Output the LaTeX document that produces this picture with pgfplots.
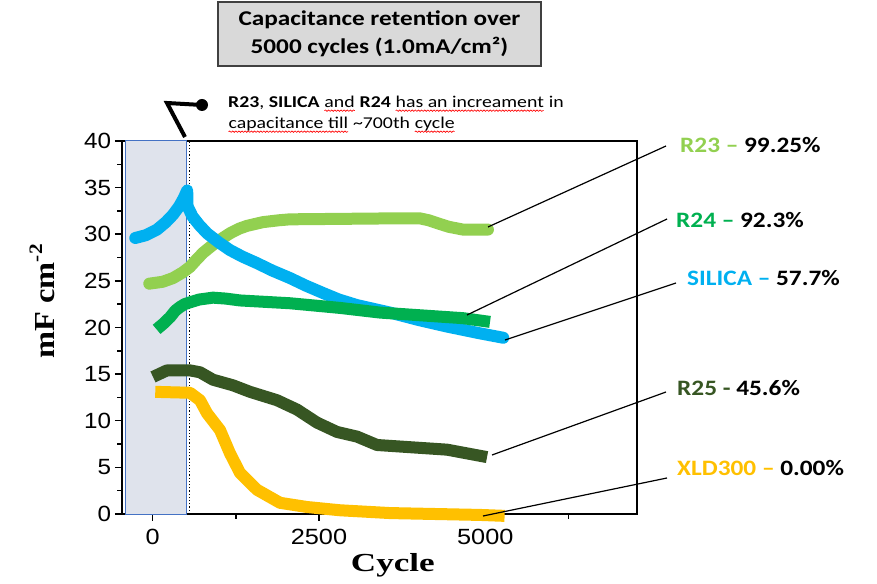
\documentclass[border=0pt]{standalone}
\usepackage{pgfplots}
\pgfplotsset{compat=1.18}
\usetikzlibrary{decorations.pathmorphing}
\usepackage{fontspec}
\setmainfont{Liberation Sans}
\newfontfamily\calib{Carlito}
\newfontfamily\tnr{Liberation Serif}
\newcommand\redwave[1]{\tikz[baseline=(t.base)]{\node[inner sep=0pt,outer sep=0pt](t){#1};\draw[red, line width=0.6pt, decorate, decoration={snake, amplitude=0.7pt, segment length=2.6pt}] ([yshift=-3pt]t.base west) -- ([yshift=-3pt]t.base east);}}
\definecolor{cR23}{HTML}{92D050}
\definecolor{cR24}{HTML}{00B050}
\definecolor{cSil}{HTML}{00B0F0}
\definecolor{cR25}{HTML}{375623}
\definecolor{cXLD}{HTML}{FFC000}
\definecolor{shade}{HTML}{DFE3EC}
\definecolor{shadeB}{HTML}{4472C4}
\begin{document}
\begin{tikzpicture}
\useasboundingbox (0,0) rectangle (877pt,583pt);
\begin{axis}[
  at={(122pt,69pt)}, anchor=south west,
  width=515pt, height=373pt, scale only axis,
  xmin=-460, xmax=7280, ymin=0, ymax=40,
  xtick={0,2500,5000}, minor xtick={1250,3750,6250},
  ytick={0,5,...,40}, minor ytick={2.5,7.5,...,37.5},
  tick align=outside, xtick pos=bottom, ytick pos=left,
  major tick length=7pt, minor tick length=4.5pt,
  tick style={black, line width=1.5pt},
  axis line style={line width=2pt},
  clip=false, scaled x ticks=false,
  /pgf/number format/assume math mode=true,
  /pgf/number format/1000 sep={},
  xticklabel style={font=\fontsize{22}{22}\selectfont, xscale=1.15, yshift=-5pt},
  yticklabel style={font=\fontsize{22}{22}\selectfont, xscale=1.1},
  xlabel={\scalebox{1.35}[1]{\tnr\bfseries Cycle}},
  xlabel style={at={(axis description cs:0.526,-0.155)}, anchor=base, font=\fontsize{26}{26}\selectfont},
  ylabel={\scalebox{1.12}[1]{\tnr\bfseries mF cm\raisebox{0.42em}{\fontsize{19}{19}\selectfont -2}}},
  ylabel style={at={(axis description cs:-0.155,0.57)}, anchor=center, font=\fontsize{29}{29}\selectfont},
]
\draw[fill=shade, draw=shadeB, line width=1pt] (axis cs:-406,0) rectangle (axis cs:511,40);
\draw[black, dotted, line width=1.2pt] (axis cs:556,0) -- (axis cs:556,40);

\addplot[cR23, line width=12pt, line join=round, line cap=round] coordinates {
(-50,24.7) (150,24.9) (307,25.3) (450,25.9) (562,26.5) (650,27.2) (757,28.0) (860,28.6) (968,29.2) (1163,30.1) (1300,30.6) (1419,30.9) (1659,31.3) (1900,31.5) (2065,31.6) (3568,31.7) (4019,31.7) (4150,31.5) (4274,31.2) (4450,30.8) (4665,30.5) (5040,30.5)};

\addplot[cSil, line width=12pt, line join=round, line cap=round] coordinates {
(-260,29.6) (-100,29.9) (66,30.5) (200,31.3) (307,32.1) (400,33.0) (470,33.9) (520,34.7) (525,33.0) (600,31.9) (700,31.0) (818,30.1) (1000,29.1) (1163,28.3) (1350,27.6) (1569,26.9) (1800,26.1) (2065,25.3) (2300,24.5) (2561,23.7) (2800,23.0) (3072,22.4) (3568,21.6) (4000,20.8) (4425,20.1) (4900,19.4) (5270,18.9)};

\addplot[cR24, line width=12pt, line join=round] coordinates {
(60,19.8) (160,20.4) (262,21.1) (340,21.8) (412,22.2) (480,22.5) (562,22.7) (700,23.0) (908,23.2) (1100,23.1) (1314,22.9) (2065,22.6) (2816,22.1) (3418,21.6) (4665,21.0) (5071,20.6)};

\addplot[cR25, line width=12pt, line join=round] coordinates {
(6,14.7) (216,15.4) (562,15.4) (712,15.2) (908,14.4) (1208,13.8) (1464,13.1) (1870,12.2) (2170,11.2) (2471,9.8) (2771,8.8) (3072,8.3) (3373,7.4) (4425,6.9) (5026,6.1)};

\addplot[cXLD, line width=12pt, line join=round] coordinates {
(40,13.1) (562,13.0) (712,12.2) (818,10.8) (1013,9.0) (1163,6.5) (1314,4.4) (1569,2.6) (1915,1.2) (2320,0.75) (2816,0.4) (3568,0.1) (4921,-0.1) (5290,-0.2)};
\end{axis}

% title box
\node[draw=black!75, fill=black!15, line width=1.5pt, minimum width=323pt, minimum height=64pt, inner sep=0pt] at (379.5pt,549pt) {};
\node[align=center, font=\calib\bfseries\fontsize{21}{28}\selectfont, xscale=1.2] at (379.5pt,549pt) {Capacitance retention over\\5000 cycles (1.0mA/cm²)};

% annotation
\node[anchor=north west, align=left, inner sep=0pt, font=\calib\fontsize{16.5}{21}\selectfont, xscale=1.2] at (228pt,487pt)
 {\textbf{R23}, \textbf{SILICA} \redwave{and} \textbf{R24} \redwave{has an increament} in\\\redwave{capacitance till} \textasciitilde700th \redwave{cycle}};
\draw[line width=4pt, line join=miter] (185pt,446pt) -- (167pt,480pt) -- (202pt,478pt);
\fill (202pt,478pt) circle (6pt);

% callouts
\draw[line width=1.2pt] (488pt,356pt) -- (666pt,437pt);
\draw[line width=1.2pt] (467pt,268pt) -- (667pt,364pt);
\draw[line width=1.2pt] (505pt,243pt) -- (676pt,300pt);
\draw[line width=1.2pt] (492pt,128pt) -- (666pt,191pt);
\draw[line width=1.2pt] (483pt,67pt) -- (667pt,105pt);

\begin{scope}[every node/.style={anchor=west, inner sep=0pt, font=\calib\bfseries\fontsize{22}{22}\selectfont, xscale=1.15}]
\node at (680pt,438pt) {\textcolor{cR23}{R23 –} 99.25\%};
\node at (676pt,363pt) {\textcolor{cR24}{R24 –} 92.3\%};
\node at (687pt,305pt) {\textcolor{cSil}{SILICA –} 57.7\%};
\node at (677pt,195pt) {\textcolor{cR25}{R25 -} 45.6\%};
\node at (677pt,115pt) {\textcolor{cXLD}{XLD300 –} 0.00\%};
\end{scope}
\end{tikzpicture}
\end{document}
